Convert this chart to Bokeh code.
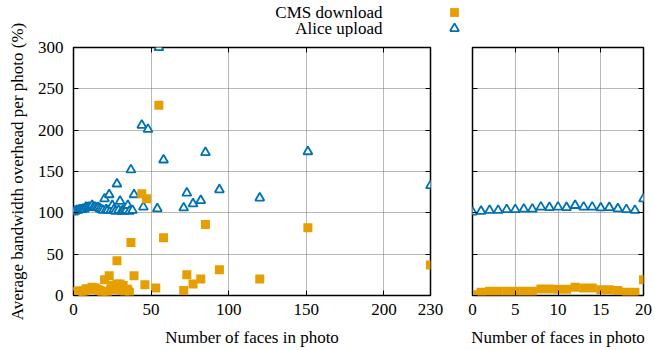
from bokeh.plotting import figure
from bokeh.models import Range1d, FixedTicker, LinearAxis, Label, Legend, LegendItem, Title
from bokeh.layouts import row, column
from bokeh.embed import file_html
from bokeh.resources import INLINE

FONT = "Liberation Serif"
ORANGE = "#E69F00"
BLUE = "#0072B2"

# ---- data ----
faces_small = [0, 1, 2, 3, 4, 5, 6, 7, 8, 9, 10, 11, 12, 13, 14, 15, 16, 17, 18, 19, 20]
alice_small = [101, 102, 103, 103, 104, 104, 104.5, 104.5, 107, 106.5, 107, 106.5,
               109, 107, 107, 106, 106.5, 105, 104, 103, 117]
cms_small = [1, 4, 5, 5, 5, 5, 5, 5, 8, 8, 7.5, 7.5, 10, 9, 9, 7, 7, 6, 4, 4, 19]

alice_more_faces = [21, 22, 23, 24, 25, 26, 27, 28, 29, 30, 31, 32, 33, 34, 35, 36, 37, 38,
                    39, 44, 45, 48, 54, 55, 58, 71, 73, 77, 82, 85, 94, 120, 151, 230]
alice_more = [104, 103, 122, 103, 109, 104, 102, 135, 103, 114, 102, 103, 102, 103, 109, 102,
              152, 103, 122, 206, 107, 201, 105, 300, 164, 106, 124, 111, 115, 173, 128, 118,
              174, 133]

cms_more_faces = [21, 22, 23, 24, 25, 26, 27, 28, 28, 29, 30, 31, 32, 33, 34, 35, 36, 37,
                  39, 44, 46, 47, 53, 55, 58, 71, 73, 77, 82, 85, 94, 120, 151, 230]
cms_more = [5, 3, 24, 8, 12, 10, 7, 42, 14, 9, 14, 6, 12, 5, 8, 7, 4, 64,
            24, 123, 13, 117, 9, 230, 70, 6, 25, 14, 20, 86, 31, 20, 82, 37]

faces_all = faces_small + alice_more_faces
alice_all = alice_small + alice_more
cms_faces_all = faces_small + cms_more_faces
cms_all = cms_small + cms_more

x_ticks_left = [0, 50, 100, 150, 200, 230]
x_ticks_right = [0, 5, 10, 15, 20]
y_ticks = [0, 50, 100, 150, 200, 250, 300]

series_names = ["CMS download", "Alice upload"]
y_title = "Average bandwidth overhead per photo (%)"
x_title = "Number of faces in photo"

# ---- layout constants (pixels) ----
H = 350
FRAME_TOP = 47
FRAME_BOTTOM = 295
YLAB_W = 28          # full-height strip holding the vertical y title
KEY_H = 37           # strip holding the key, above the panels
MAIN_H = H - KEY_H
LEFT_W = 462 - YLAB_W
RIGHT_W = 192


def style_axis(ax, ticks, labels=True):
    ax.ticker = FixedTicker(ticks=ticks, minor_ticks=[])
    ax.axis_line_color = None
    ax.major_tick_in = 5
    ax.major_tick_out = 0
    ax.major_tick_line_color = "black"
    ax.major_tick_line_width = 1
    ax.minor_tick_line_color = None
    ax.major_label_text_font = FONT
    ax.major_label_text_font_size = "17px"
    ax.major_label_text_color = "black"
    ax.axis_label_text_font = FONT
    ax.axis_label_text_font_size = "17px"
    ax.axis_label_text_font_style = "normal"
    ax.axis_label_text_color = "black"
    if not labels:
        ax.major_label_overrides = {t: "" for t in ticks}
        ax.major_label_text_font_size = "1px"
        ax.major_label_standoff = 0


def make_fig(width, xmax, xticks, left_border, right_border, ylabels):
    p = figure(width=width, height=MAIN_H, output_backend="svg", toolbar_location=None,
               title=None, x_range=Range1d(0, xmax), y_range=Range1d(0, 300))
    p.min_border = 0
    p.min_border_left = left_border
    p.min_border_right = right_border
    p.min_border_top = FRAME_TOP - KEY_H
    p.min_border_bottom = H - FRAME_BOTTOM
    p.outline_line_color = "black"
    p.outline_line_width = 1.5
    p.background_fill_color = "white"
    p.border_fill_color = "white"

    style_axis(p.xaxis[0], xticks)
    p.xaxis[0].major_label_standoff = 8
    p.xaxis[0].axis_label = x_title
    p.xaxis[0].axis_label_standoff = 10
    style_axis(p.yaxis[0], y_ticks, labels=ylabels)
    if ylabels:
        p.yaxis[0].major_label_standoff = 10

    top = LinearAxis()
    style_axis(top, xticks, labels=False)
    p.add_layout(top, "above")
    right = LinearAxis()
    style_axis(right, y_ticks, labels=False)
    p.add_layout(right, "right")

    p.xgrid.ticker = FixedTicker(ticks=xticks, minor_ticks=[])
    p.ygrid.ticker = FixedTicker(ticks=y_ticks, minor_ticks=[])
    for g in (p.xgrid, p.ygrid):
        g.grid_line_color = "#707070"
        g.grid_line_dash = "1 1"
        g.grid_line_width = 1
    return p


def add_series(p, fx, ay, cx, cy):
    p.scatter(fx, ay, marker="triangle", size=9, line_color=BLUE, line_width=1.8,
              fill_color="white")
    p.scatter(cx, cy, marker="square", size=9, fill_color=ORANGE, line_color=None)


left = make_fig(LEFT_W, 230, x_ticks_left, 73 - YLAB_W, 32, True)
add_series(left, faces_all, alice_all, cms_faces_all, cms_all)

right_fig = make_fig(RIGHT_W, 20, x_ticks_right, 10, 11, False)
add_series(right_fig, faces_small, alice_small, faces_small, cms_small)

# ---- vertical y title in its own full-height strip ----
ylab = figure(width=YLAB_W, height=H, output_backend="svg", toolbar_location=None,
              title=None, x_axis_type=None, y_axis_type=None)
ylab.min_border = 0
ylab.min_border_left = YLAB_W - 2
ylab.min_border_top = FRAME_TOP
ylab.min_border_bottom = H - FRAME_BOTTOM
ylab.outline_line_color = None
ylab.background_fill_color = "white"
ylab.border_fill_color = "white"
ylab.add_layout(Title(text=y_title, align="center", text_font=FONT, text_font_size="17px",
                      text_font_style="normal", text_color="black", standoff=0, offset=0),
                "left")

# ---- key strip above the panels: text on the left, marker on the right ----
KEY_W = LEFT_W + RIGHT_W
key = figure(width=KEY_W, height=KEY_H, output_backend="svg", toolbar_location=None,
             title=None, x_range=Range1d(0, KEY_W), y_range=Range1d(0, KEY_H),
             x_axis_type=None, y_axis_type=None)
key.min_border = 0
key.outline_line_color = None
key.grid.visible = False
key.background_fill_color = "white"
key.border_fill_color = "white"

nan = float("nan")
k_cms = key.scatter(x=[nan], y=[nan], marker="square", size=9, fill_color=ORANGE,
                    line_color=None)
k_alice = key.scatter(x=[nan], y=[nan], marker="triangle", size=9, line_color=BLUE,
                      line_width=1.8, fill_color="white")

TEXT_RIGHT = 382 - YLAB_W
MARK_X = 453.5 - YLAB_W
row_centres = [KEY_H - 11.5, KEY_H - 27.5]
GLYPH = 22
for name, rend, cy in zip(series_names, [k_cms, k_alice], row_centres):
    key.add_layout(Label(x=TEXT_RIGHT, y=cy, x_units="screen", y_units="screen", text=name,
                         text_align="right", text_baseline="middle", text_font=FONT,
                         text_font_size="17px", text_color="black"))
    key.add_layout(Legend(items=[LegendItem(label=" ", renderers=[rend])],
                          location=(MARK_X - GLYPH / 2, cy - GLYPH / 2),
                          padding=0, margin=0, spacing=0,
                          glyph_width=GLYPH, glyph_height=GLYPH, label_standoff=0,
                          label_text_font=FONT, label_text_font_size="17px",
                          background_fill_alpha=0, border_line_color=None))

layout = row(ylab, column(key, row(left, right_fig)))
open("out.html", "w").write(file_html(layout, INLINE))
